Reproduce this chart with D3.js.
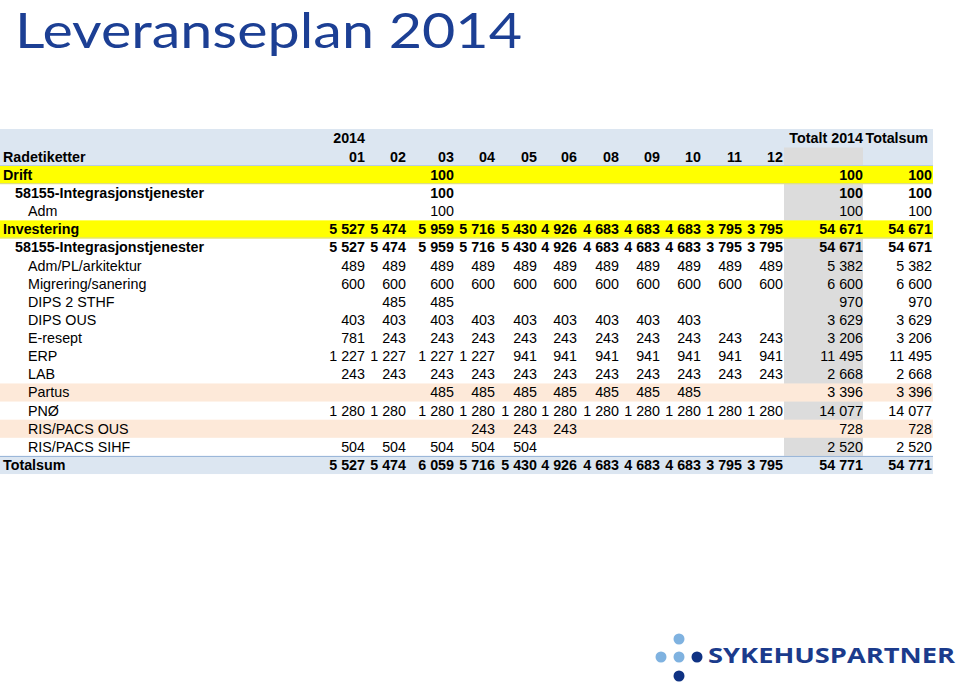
<!DOCTYPE html>
<html>
<head>
<meta charset="utf-8">
<script src="https://cdn.jsdelivr.net/npm/d3@7"></script>
<style>
body{margin:0;background:#fff}
svg{display:block}
</style>
</head>
<body>
<svg id="chart" width="960" height="684"></svg>
<script>
// data
var months = ["01","02","03","04","05","06","08","09","10","11","12"]
var rowLabels = ["Drift","58155-Integrasjonstjenester","Adm","Investering","58155-Integrasjonstjenester",
    "Adm/PL/arkitektur","Migrering/sanering","DIPS 2 STHF","DIPS OUS","E-resept","ERP","LAB",
    "Partus","PNØ","RIS/PACS OUS","RIS/PACS SIHF"]
var rowLevel = [0,1,2,0,1,2,2,2,2,2,2,2,2,2,2,2]
var rowValues = [
    [null,null,100,null,null,null,null,null,null,null,null],
    [null,null,100,null,null,null,null,null,null,null,null],
    [null,null,100,null,null,null,null,null,null,null,null],
    [5527,5474,5959,5716,5430,4926,4683,4683,4683,3795,3795],
    [5527,5474,5959,5716,5430,4926,4683,4683,4683,3795,3795],
    [489,489,489,489,489,489,489,489,489,489,489],
    [600,600,600,600,600,600,600,600,600,600,600],
    [null,485,485,null,null,null,null,null,null,null,null],
    [403,403,403,403,403,403,403,403,403,null,null],
    [781,243,243,243,243,243,243,243,243,243,243],
    [1227,1227,1227,1227,941,941,941,941,941,941,941],
    [243,243,243,243,243,243,243,243,243,243,243],
    [null,null,485,485,485,485,485,485,485,null,null],
    [1280,1280,1280,1280,1280,1280,1280,1280,1280,1280,1280],
    [null,null,null,243,243,243,null,null,null,null,null],
    [504,504,504,504,504,null,null,null,null,null,null]
]
var rowTotal2014 = [100,100,100,54671,54671,5382,6600,970,3629,3206,11495,2668,3396,14077,728,2520]
var rowTotalsum = [100,100,100,54671,54671,5382,6600,970,3629,3206,11495,2668,3396,14077,728,2520]
var grandMonths = [5527,5474,6059,5716,5430,4926,4683,4683,4683,3795,3795]
var grandTotal2014 = 54771
var grandTotalsum = 54771
var yellowRows = ["Drift","Investering"]
var peachRows = ["Partus","RIS/PACS OUS"]

var svg = d3.select("#chart")
var fmt = function(v){
    if(v==null) return ""
    return d3.format(",")(v).replace(/,/g," ")
}

// layout
var tableLeft = 0, tableRight = 933
var headTop = 129, headRow = 18.5
var bodyTop = headTop + 2*headRow
var rowH = 18.12
var colKeys = months.concat(["tot2014","totsum"])
var xRight = d3.scaleOrdinal().domain(colKeys)
    .range([365,406,454,495,537,577,619,660,701,742,783,863,932])
var yRow = d3.scaleBand().domain(d3.range(rowLabels.length))
    .range([bodyTop, bodyTop + rowH*rowLabels.length])
var grandTop = yRow.range()[1]
var indent = d3.scaleOrdinal().domain([0,1,2]).range([3,15,28])

// title
svg.append("text").attr("x",15).attr("y",48)
    .attr("font-family","Lato, 'Open Sans', sans-serif")
    .attr("font-size",48.5).attr("fill","#1c3f94")
    .attr("textLength",507).attr("lengthAdjust","spacingAndGlyphs")
    .text("Leveranseplan 2014")

// backgrounds
svg.append("rect").attr("x",tableLeft).attr("y",headTop).attr("width",tableRight-tableLeft)
    .attr("height",2*headRow).attr("fill","#dce6f1")
svg.append("rect").attr("x",784).attr("y",headTop+headRow).attr("width",79)
    .attr("height",grandTop-headTop-headRow).attr("fill","#dcdcdc")

svg.selectAll(".rowbg").data(rowLabels).enter().append("rect")
    .attr("x",tableLeft).attr("width",tableRight-tableLeft)
    .attr("y",function(d,i){return yRow(i)})
    .attr("height",yRow.bandwidth())
    .attr("fill",function(d,i){
        if(yellowRows.indexOf(d)>-1 && rowLevel[i]==0) return "#ffff00"
        if(peachRows.indexOf(d)>-1) return "#fde9d9"
        return "none"
    })
svg.selectAll(".rowline").data(rowLabels.filter(function(d,i){return yellowRows.indexOf(d)>-1 && rowLevel[i]==0}))
    .enter().append("line")
    .attr("x1",tableLeft).attr("x2",tableRight)
    .attr("y1",function(d){return yRow(rowLabels.indexOf(d))+yRow.bandwidth()-0.5})
    .attr("y2",function(d){return yRow(rowLabels.indexOf(d))+yRow.bandwidth()-0.5})
    .attr("stroke","#d8d8a0").attr("stroke-width",1)

svg.append("rect").attr("x",tableLeft).attr("y",grandTop).attr("width",tableRight-tableLeft)
    .attr("height",rowH).attr("fill","#dce6f1")
svg.append("line").attr("x1",tableLeft).attr("x2",tableRight)
    .attr("y1",bodyTop-0.5).attr("y2",bodyTop-0.5).attr("stroke","#b8cce4")
svg.append("line").attr("x1",tableLeft).attr("x2",tableRight)
    .attr("y1",grandTop+0.5).attr("y2",grandTop+0.5).attr("stroke","#95b3d7")

var font = "'Liberation Sans', Arial, sans-serif"
var fs = 14.3
var base = 14

// header
var head = svg.append("g").attr("font-family",font).attr("font-size",fs).attr("font-weight","bold").attr("fill","#000")
head.append("text").attr("x",xRight("01")).attr("y",headTop+base).attr("text-anchor","end").text("2014")
head.append("text").attr("x",xRight("tot2014")).attr("y",headTop+base).attr("text-anchor","end").text("Totalt 2014")
head.append("text").attr("x",xRight("totsum")-4).attr("y",headTop+base).attr("text-anchor","end").text("Totalsum")
head.append("text").attr("x",3).attr("y",headTop+headRow+base).text("Radetiketter")
head.selectAll(".mh").data(months).enter().append("text")
    .attr("x",function(d){return xRight(d)}).attr("y",headTop+headRow+base)
    .attr("text-anchor","end").text(function(d){return d})

// body rows
var rows = svg.selectAll(".row").data(rowLabels).enter().append("g")
    .attr("transform",function(d,i){return "translate(0,"+yRow(i)+")"})
    .attr("font-family",font).attr("font-size",fs)
    .attr("font-weight",function(d,i){return rowLevel[i]<2?"bold":"normal"})
rows.append("text").attr("x",function(d,i){return indent(rowLevel[i])}).attr("y",base)
    .text(function(d){return d})
rows.each(function(d,i){
    var cells = months.map(function(m,j){return {key:m,v:rowValues[i][j]}})
        .concat([{key:"tot2014",v:rowTotal2014[i]},{key:"totsum",v:rowTotalsum[i]}])
    d3.select(this).selectAll(".cell").data(cells).enter().append("text")
        .attr("x",function(c){return xRight(c.key)}).attr("y",base)
        .attr("text-anchor","end").text(function(c){return fmt(c.v)})
})

// grand total
var grand = svg.append("g").attr("transform","translate(0,"+grandTop+")")
    .attr("font-family",font).attr("font-size",fs).attr("font-weight","bold")
grand.append("text").attr("x",3).attr("y",base).text("Totalsum")
var gcells = months.map(function(m,j){return {key:m,v:grandMonths[j]}})
    .concat([{key:"tot2014",v:grandTotal2014},{key:"totsum",v:grandTotalsum}])
grand.selectAll(".cell").data(gcells).enter().append("text")
    .attr("x",function(c){return xRight(c.key)}).attr("y",base)
    .attr("text-anchor","end").text(function(c){return fmt(c.v)})

// logo
var logo = svg.append("g")
var dots = [[679,639,"#7fb2e0"],[661,657,"#7fb2e0"],[679,657,"#7fb2e0"],[697,657,"#0f3283"],[679,676,"#0f3283"]]
logo.selectAll("circle").data(dots).enter().append("circle")
    .attr("cx",function(d){return d[0]}).attr("cy",function(d){return d[1]})
    .attr("r",5.5).attr("fill",function(d){return d[2]})
logo.append("text").attr("x",708).attr("y",663)
    .attr("font-family","'Open Sans', sans-serif").attr("font-weight","bold")
    .attr("font-size",22).attr("fill","#1b3b8c")
    .attr("textLength",247).attr("lengthAdjust","spacingAndGlyphs")
    .text("SYKEHUSPARTNER")
</script>
</body>
</html>
